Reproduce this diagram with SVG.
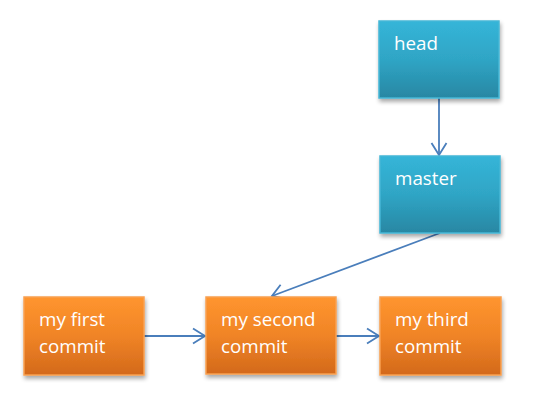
<svg xmlns="http://www.w3.org/2000/svg" width="542" height="402" viewBox="0 0 542 402">
<defs>
<linearGradient id="gBlue" x1="0" y1="0" x2="0" y2="1">
<stop offset="0" stop-color="#35B5D8"/>
<stop offset="0.5" stop-color="#2FA5C5"/>
<stop offset="1" stop-color="#2887A3"/>
</linearGradient>
<linearGradient id="gOrange" x1="0" y1="0" x2="0" y2="1">
<stop offset="0" stop-color="#FF952F"/>
<stop offset="0.5" stop-color="#F08426"/>
<stop offset="1" stop-color="#D3691B"/>
</linearGradient>
<filter id="sh" x="-10%" y="-10%" width="125%" height="130%">
<feGaussianBlur in="SourceAlpha" stdDeviation="2"/>
<feOffset dx="1" dy="3" result="b"/>
<feComponentTransfer><feFuncA type="linear" slope="0.35"/></feComponentTransfer>
<feMerge><feMergeNode/><feMergeNode in="SourceGraphic"/></feMerge>
</filter>
<marker id="arr" markerWidth="16" markerHeight="18" refX="13" refY="9" orient="auto" markerUnits="userSpaceOnUse">
<path d="M1,1.5 L13,9 L1,16.5" fill="none" stroke="#4A7EBB" stroke-width="1.8"/>
</marker>
</defs>
<style>
.blue{fill:url(#gBlue);stroke:#46B7D6;stroke-width:1.5;filter:url(#sh)}
.orange{fill:url(#gOrange);stroke:#F9A050;stroke-width:1.5;filter:url(#sh)}
.t{font-family:"Open Sans","Liberation Sans",sans-serif;font-size:18.8px;fill:#FFFFFF}
.c{fill:none;stroke:#4A7EBB;stroke-width:1.8;marker-end:url(#arr)}
</style>
<rect width="542" height="402" fill="#FFFFFF"/>
<g id="connectors">
<line class="c" x1="439" y1="98" x2="439" y2="155"/>
<line class="c" x1="440" y1="233" x2="272" y2="296"/>
<line class="c" x1="144" y1="336" x2="205" y2="336"/>
<line class="c" x1="336" y1="336" x2="379" y2="336"/>
</g>
<g id="head">
<rect class="blue" x="379" y="21" width="120" height="77"/>
<text class="t" x="394" y="50">head</text>
</g>
<g id="master">
<rect class="blue" x="380" y="156" width="120" height="77"/>
<text class="t" x="395" y="185">master</text>
</g>
<g id="first">
<rect class="orange" x="24" y="297" width="120" height="78"/>
<text class="t" x="39" y="326">my first</text>
<text class="t" x="39" y="353">commit</text>
</g>
<g id="second">
<rect class="orange" x="206" y="297" width="130" height="77"/>
<text class="t" x="221" y="326">my second</text>
<text class="t" x="221" y="353">commit</text>
</g>
<g id="third">
<rect class="orange" x="380" y="297" width="121" height="78"/>
<text class="t" x="395" y="326">my third</text>
<text class="t" x="395" y="353">commit</text>
</g>
</svg>
